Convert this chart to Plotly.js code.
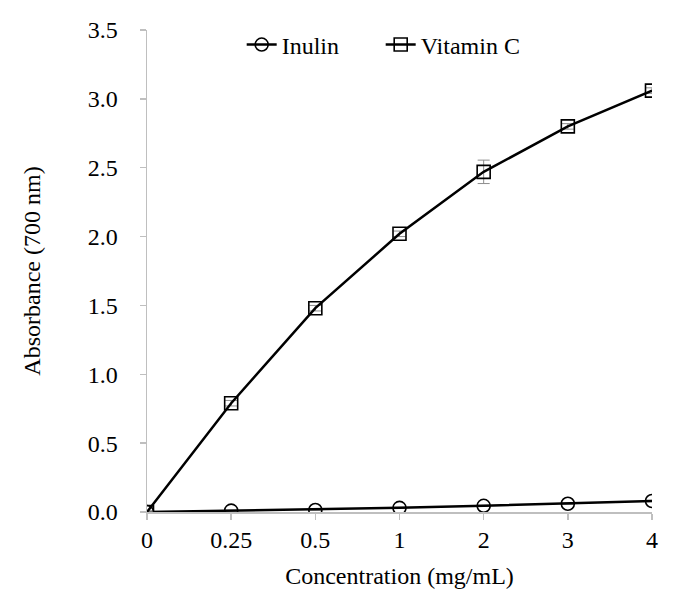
<!DOCTYPE html>
<html>
<head>
<meta charset="utf-8">
<script src="https://cdn.plot.ly/plotly-3.0.1.min.js"></script>
<style>html,body{margin:0;padding:0;background:#fff;}</style>
</head>
<body>
<div id="chart" style="width:686px;height:603px;"></div>
<script>
const categories = ["0", "0.25", "0.5", "1", "2", "3", "4"];
const inulin = [0.0, 0.01, 0.015, 0.03, 0.045, 0.06, 0.08];
const inulinErr = [0.003, 0.003, 0.003, 0.004, 0.004, 0.005, 0.005];
const vitaminC = [0.0, 0.79, 1.48, 2.02, 2.47, 2.80, 3.06];
const vitaminCErr = [0.005, 0.02, 0.02, 0.02, 0.085, 0.02, 0.02];

const font = {family: "Liberation Serif, Times New Roman, serif", color: "#000"};
const fs = 24;

const traces = [
  {
    x: categories, y: inulin, name: "Inulin", type: "scatter", mode: "lines+markers",
    line: {color: "#000", width: 2.5},
    marker: {symbol: "circle-open", size: 13, color: "#000", line: {width: 1.6, color: "#000"}},
    error_y: {type: "data", array: inulinErr, visible: true, color: "#8c8c8c", thickness: 1, width: 6}
  },
  {
    x: categories, y: vitaminC, name: "Vitamin C", type: "scatter", mode: "lines+markers",
    line: {color: "#000", width: 2.5},
    marker: {symbol: "square-open", size: 13, color: "#000", line: {width: 1.6, color: "#000"}},
    error_y: {type: "data", array: vitaminCErr, visible: true, color: "#8c8c8c", thickness: 1, width: 6}
  }
];

const layout = {
  width: 686, height: 603,
  margin: {l: 147, r: 34, t: 30, b: 91},
  paper_bgcolor: "#fff", plot_bgcolor: "#fff",
  font: Object.assign({size: fs}, font),
  showlegend: true,
  legend: {
    orientation: "h", x: 0.1875, xanchor: "left", y: 0.969, yanchor: "middle",
    font: Object.assign({size: fs}, font), bgcolor: "rgba(0,0,0,0)",
    tracegroupgap: 0, entrywidth: 94, entrywidthmode: "pixels"
  },
  xaxis: {
    type: "category", range: [0, 6],
    showline: true, linecolor: "#bfbfbf", linewidth: 1.5,
    ticks: "outside", ticklen: 6, tickcolor: "#bfbfbf", tickwidth: 1.5,
    showgrid: false, zeroline: false,
    tickfont: Object.assign({size: fs}, font),
    title: {text: "Concentration (mg/mL)", font: Object.assign({size: fs}, font), standoff: 15}
  },
  yaxis: {
    range: [0, 3.5], dtick: 0.5, tick0: 0, tickformat: ".1f",
    showline: true, linecolor: "#bfbfbf", linewidth: 1.5,
    ticks: "outside", ticklen: 6, tickcolor: "#bfbfbf", tickwidth: 1.5,
    ticklabelstandoff: 17,
    showgrid: false, zeroline: false,
    tickfont: Object.assign({size: fs}, font),
    title: {text: "Absorbance (700 nm)", font: Object.assign({size: fs}, font), standoff: 40}
  }
};

Plotly.newPlot("chart", traces, layout, {displayModeBar: false, staticPlot: true});
</script>
</body>
</html>
